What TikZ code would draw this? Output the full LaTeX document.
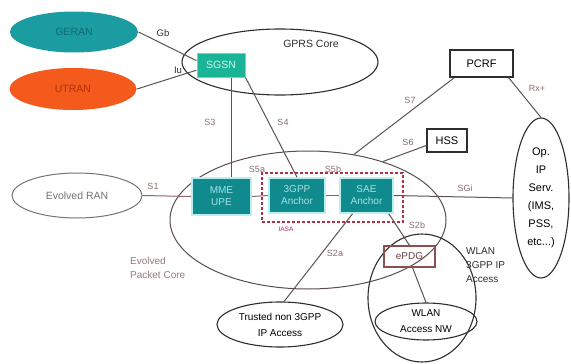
\documentclass[tikz,border=0pt]{standalone}
\usepackage{fontspec}
\setmainfont{Liberation Sans}
\usetikzlibrary{shapes.geometric,calc}
\definecolor{geranfill}{HTML}{1A9CA0}
\definecolor{gerantxt}{HTML}{0E6B70}
\definecolor{utranfill}{HTML}{F45A1C}
\definecolor{utrantxt}{HTML}{B3300C}
\definecolor{sgsnfill}{HTML}{1AB596}
\definecolor{sgsntxt}{HTML}{D2F2EA}
\definecolor{epcfill}{HTML}{108A8D}
\definecolor{epctxt}{HTML}{A4E2E2}
\definecolor{glow}{HTML}{B8F0F2}
\definecolor{linec}{HTML}{5E5252}
\definecolor{pinkline}{HTML}{8A6868}
\definecolor{epcline}{HTML}{5A4C50}
\definecolor{labc}{HTML}{8A6E6E}
\definecolor{iasac}{HTML}{B0304A}
\definecolor{epdgc}{HTML}{8A5050}
\definecolor{darkl}{HTML}{2E2E2E}
\begin{document}
\begin{tikzpicture}[x=1pt,y=-1pt,
  ell/.style={ellipse, draw=darkl, line width=1.1pt, inner sep=0pt, align=center},
  netbox/.style={rectangle, inner sep=0pt, align=center},
  epcbox/.style={netbox, fill=epcfill, draw=glow, line width=1.6pt, text=epctxt,
     font=\fontsize{10}{12}\selectfont},
  wbox/.style={netbox, draw=darkl, line width=1.3pt, font=\fontsize{11}{12}\selectfont},
  lab/.style={font=\fontsize{9}{10}\selectfont, text=labc, inner sep=0pt},
  ln/.style={draw=linec, line width=1pt},
  pln/.style={draw=pinkline, line width=1pt},
  every node/.style={font=\fontsize{10.5}{12}\selectfont}]
\useasboundingbox (0,0) rectangle (571,364);
\fill[white] (0,0) rectangle (571,364);

% big ellipses
\node[ell, draw=epcline, line width=1pt, minimum width=276pt, minimum height=138pt] (epc) at (308,220) {};
\node[ell, minimum width=196pt, minimum height=66pt] (gprs) at (280,62) {};
\node[ell, minimum width=108pt, minimum height=128pt] (wlan3gpp) at (422,298) {};

% access networks
\node[ell, draw=none, fill=geranfill, minimum width=128pt, minimum height=41pt, text=gerantxt] (geran) at (74,32) {GERAN};
\node[ell, draw=none, fill=utranfill, minimum width=127pt, minimum height=42pt, text=utrantxt] (utran) at (73,89) {UTRAN};
\node[ell, draw=gray!90!black, line width=1pt, minimum width=130pt, minimum height=45pt, text=gray!90!black] (eran) at (77,195.5) {Evolved RAN};
\node[ell, minimum width=126pt, minimum height=45pt, font=\fontsize{10}{16}\selectfont] (trusted) at (280,324.5) {Trusted non 3GPP\\IP Access};
\node[ell, minimum width=102pt, minimum height=37pt, font=\fontsize{10}{16}\selectfont] (wlannw) at (426,321.5) {WLAN\\Access NW};
\node[ell, minimum width=56pt, minimum height=160pt, font=\fontsize{11}{18}\selectfont] (opip) at (541,198) {Op.\\IP\\Serv.\\(IMS,\\PSS,\\etc...)};

% core boxes
\node[netbox, fill=sgsnfill, draw=sgsnfill!60, line width=1pt, text=sgsntxt, minimum width=48pt, minimum height=24pt] (sgsn) at (221,65) {SGSN};
\node[epcbox, minimum width=59pt, minimum height=37pt] (mme) at (221.5,196.5) {MME\\UPE};
\node[epcbox, minimum width=56pt, minimum height=35pt] (anchor3) at (297,195.5) {3GPP\\Anchor};
\node[epcbox, minimum width=53pt, minimum height=35pt] (sae) at (366.5,195.5) {SAE\\Anchor};
\node[draw=iasac, dashed, dash pattern=on 3pt off 2pt, line width=1.6pt, rectangle, inner sep=0pt,
      minimum width=141pt, minimum height=49pt] (iasa) at (332.5,197.5) {};
\node[wbox, minimum width=63pt, minimum height=27pt] (pcrf) at (481.5,63.5) {PCRF};
\node[wbox, minimum width=40pt, minimum height=23pt] (hss) at (447,140.5) {HSS};
\node[netbox, draw=epdgc, line width=1.2pt, minimum width=51pt, minimum height=21pt, text=epdgc!80!black, font=\fontsize{10}{12}\selectfont] (epdg) at (409.5,256.5) {ePDG};

% connectors
\draw[ln] (geran.east) -- (sgsn.170);
\draw[ln] (utran.east) -- (sgsn.192);
\draw[ln] ([xshift=10pt]sgsn.south) -- ([xshift=10pt]sgsn.south |- mme.north);
\draw[ln] (sgsn.south east) -- (anchor3.north);
\draw[pln] (eran.east) -- (mme.west);
\draw[pln] (mme.east) -- (anchor3.west);
\draw[pln] (anchor3.east) -- (sae.west);
\draw[ln] (sae.east) -- (opip.west);
\draw[ln] ([xshift=5pt]pcrf.south west) -- (epc.55);
\draw[ln] ([xshift=-5pt]pcrf.south east) -- (opip.north);
\draw[ln] ([yshift=-5pt]hss.west) -- (epc.38);
\draw[ln] ([xshift=-14pt]sae.south) -- (trusted.80);
\draw[ln] ([xshift=-5pt]sae.south east) -- (epdg.north);
\draw[ln] ([xshift=3pt]epdg.south) -- (wlannw.north);

% labels
\node[text=darkl, inner sep=0pt] (lgprs) at (311,44) {GPRS Core};
\node[text=darkl, inner sep=0pt, font=\fontsize{9.5}{10}\selectfont] (lgb) at (163,33) {Gb};
\node[text=darkl, inner sep=0pt, font=\fontsize{9.5}{10}\selectfont] (liu) at (178,70) {Iu};
\node[lab] (ls3) at (210,122) {S3};
\node[lab] (ls4) at (283,122) {S4};
\node[lab] (ls1) at (153,186) {S1};
\node[lab] (ls5a) at (257,169) {S5a};
\node[lab] (ls5b) at (333,169) {S5b};
\node[lab, font=\fontsize{6.5}{7}\selectfont, text=iasac] (liasa) at (286,229) {IASA};
\node[lab] (ls7) at (410,100) {S7};
\node[lab] (ls6) at (408,142) {S6};
\node[lab] (lrx) at (537,88) {Rx+};
\node[lab] (lsgi) at (465,188) {SGi};
\node[lab] (ls2b) at (417,225) {S2b};
\node[lab] (ls2a) at (335,253) {S2a};
\node[lab, align=left, anchor=north west, font=\fontsize{10}{14}\selectfont, text=labc!90!white] (lepc) at (130,257) {Evolved\\Packet Core};
\node[align=left, anchor=north west, inner sep=0pt, font=\fontsize{10}{14}\selectfont, text=darkl] (lwlan) at (466,247) {WLAN\\3GPP IP\\Access};
\end{tikzpicture}
\end{document}
